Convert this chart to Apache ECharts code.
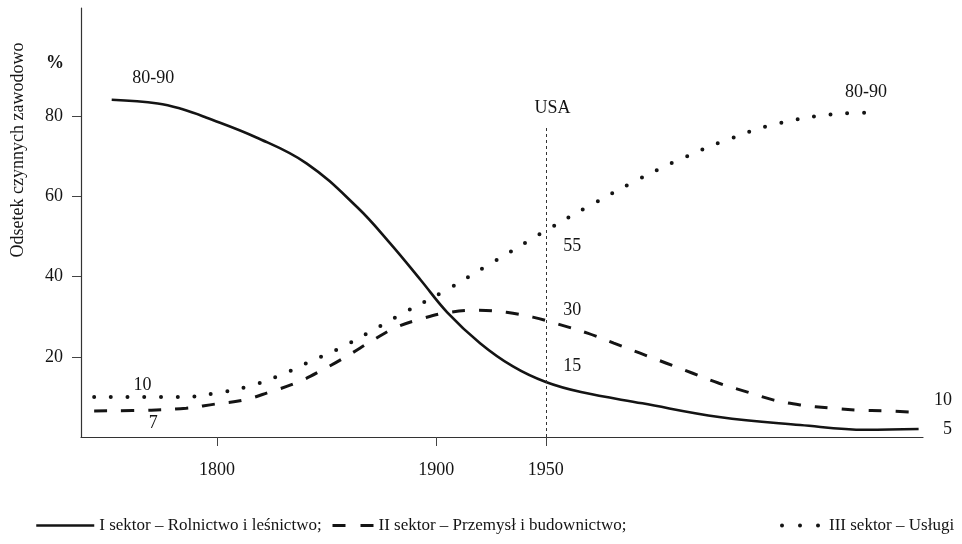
<!DOCTYPE html>
<html>
<head>
<meta charset="utf-8">
<script src="https://cdn.jsdelivr.net/npm/echarts@6/dist/echarts.min.js"></script>
<style>
  html, body { margin: 0; padding: 0; background: #fff; }
  #chart { width: 962px; height: 544px; }
</style>
</head>
<body>
<div id="chart"></div>
<script>
// Dane (rok, % czynnych zawodowo)
const sec1Name = 'I sektor – Rolnictwo i leśnictwo;';
const sec2Name = 'II sektor – Przemysł i budownictwo;';
const sec3Name = 'III sektor – Usługi';

const sec1Years = [1752, 1773, 1784, 1795, 1818, 1841, 1864, 1879, 1893, 1905, 1920, 1935, 1950, 1966, 1994, 2029, 2066, 2096, 2120];
const sec1Values = [84.1, 83.2, 81.8, 79.7, 74.7, 68.2, 57.3, 48.3, 39.1, 31.1, 23.4, 17.6, 13.7, 11.2, 8.4, 5.0, 3.0, 1.8, 2.0];

const sec2Years = [1744, 1770, 1786, 1799, 1812, 1824, 1837, 1848, 1860, 1871, 1882, 1894, 1906, 1919, 1932, 1944, 1956, 1969, 1981, 1993, 2005, 2017, 2029, 2042, 2054, 2066, 2080, 2092, 2105, 2117];
const sec2Values = [6.5, 6.7, 7.2, 8.2, 9.2, 11.2, 13.7, 16.7, 20.4, 24.1, 27.4, 29.6, 31.1, 31.6, 31.1, 29.9, 28.1, 25.9, 23.4, 20.9, 18.4, 15.9, 13.4, 11.2, 9.2, 8.0, 7.2, 6.7, 6.5, 6.2];

const sec3Years = [1744, 1785, 1800, 1815, 1830, 1844, 1857, 1871, 1885, 1905, 1925, 1951, 1971, 1992, 2013, 2034, 2056, 2086, 2102];
const sec3Values = [10.0, 10.0, 11.0, 12.7, 15.7, 19.2, 22.4, 26.6, 30.9, 36.8, 43.3, 51.8, 58.0, 64.2, 69.7, 74.4, 78.2, 80.7, 80.9];

const xTicks = [1800, 1900, 1950];
const yTicks = [20, 40, 60, 80];
const usaYear = 1950;
const usaTop = 77.2;

const font = 'Liberation Serif, Times New Roman, serif';
const ink = '#141414';
const fs = 18;

const chart = echarts.init(document.getElementById('chart'));

function pairs(xs, ys) {
    return xs.map((x, i) => [x, ys[i]]);
}

// Etykiety opisowe przy liniach
function note(coord, text, offset) {
    return {
        coord: coord,
        value: text,
        symbol: 'circle',
        symbolSize: 0,
        label: {
            show: true,
            position: 'inside',
            formatter: text,
            offset: offset || [0, 0],
            color: ink,
            fontFamily: font,
            fontSize: fs
        }
    };
}

function legend(name, left, width, lineStyle) {
    return {
        data: [name],
        left: left,
        top: 512,
        itemWidth: width,
        itemHeight: 14,
        itemGap: 0,
        selectedMode: false,
        itemStyle: { opacity: 0 },
        lineStyle: lineStyle,
        textStyle: { fontFamily: font, fontSize: 17, color: ink }
    };
}

const option = {
    animation: false,
    backgroundColor: '#fff',
    grid: { left: 81, right: 39, top: 8, bottom: 107 },
    legend: [
        legend(sec1Name, 30, 58, { type: 'solid', width: 2.5, color: ink }),
        legend(sec2Name, 326, 41, { type: [13, 15], width: 3, color: ink }),
        legend(sec3Name, 775, 42, { type: [0, 18], width: 4, cap: 'round', color: ink })
    ],
    graphic: [
        {
            type: 'text',
            x: 18, y: 150,
            rotation: Math.PI / 2,
            style: {
                text: 'Odsetek czynnych zawodowo',
                fill: ink,
                font: fs + 'px ' + font,
                align: 'center',
                verticalAlign: 'middle'
            }
        },
        {
            type: 'text',
            x: 55, y: 63,
            style: {
                text: '%',
                fill: ink,
                font: 'bold ' + fs + 'px ' + font,
                align: 'center',
                verticalAlign: 'middle'
            }
        }
    ],
    xAxis: {
        type: 'value',
        min: 1738,
        max: 2122,
        axisLine: { show: true, onZero: false, lineStyle: { color: '#333', width: 1.2 } },
        axisTick: { show: true, customValues: xTicks, length: 9, lineStyle: { color: '#444' } },
        axisLabel: {
            customValues: xTicks,
            margin: 24,
            color: ink,
            fontFamily: font,
            fontSize: fs,
            formatter: (v) => String(v)
        },
        splitLine: { show: false }
    },
    yAxis: {
        type: 'value',
        min: 0,
        max: 107,
        axisLine: { show: true, lineStyle: { color: '#333', width: 1.2 } },
        axisTick: { show: true, customValues: yTicks, length: 9, lineStyle: { color: '#444' } },
        axisLabel: { customValues: yTicks, margin: 18, color: ink, fontFamily: font, fontSize: fs },
        splitLine: { show: false }
    },
    series: [
        {
            name: sec1Name,
            type: 'line',
            smooth: 0.4,
            symbol: 'none',
            data: pairs(sec1Years, sec1Values),
            lineStyle: { color: ink, width: 2.6 },
            itemStyle: { color: ink },
            markLine: {
                silent: true,
                symbol: 'none',
                label: { show: false },
                lineStyle: { color: '#333', width: 1, type: [3, 3] },
                data: [[{ coord: [usaYear, 0] }, { coord: [usaYear, usaTop] }]]
            },
            markPoint: {
                silent: true,
                data: [
                    note([1771, 89.4], '80-90'),
                    note([1962, 17.7], '15'),
                    note([1953, 81.9], 'USA'),
                    note([2120, 2.0], '5', [29, 0])
                ]
            }
        },
        {
            name: sec2Name,
            type: 'line',
            smooth: 0.4,
            symbol: 'none',
            data: pairs(sec2Years, sec2Values),
            lineStyle: { color: ink, width: 3, type: [13, 14] },
            itemStyle: { color: ink },
            markPoint: {
                silent: true,
                data: [
                    note([1771, 3.5], '7'),
                    note([1962, 31.6], '30'),
                    note([2117, 6.2], '10', [31, -12])
                ]
            }
        },
        {
            name: sec3Name,
            type: 'line',
            smooth: 0.4,
            symbol: 'none',
            data: pairs(sec3Years, sec3Values),
            lineStyle: { color: ink, width: 4, type: [0, 16.7], cap: 'round' },
            itemStyle: { color: ink },
            markPoint: {
                silent: true,
                data: [
                    note([1766, 12.9], '10'),
                    note([1962, 47.5], '55'),
                    note([2096, 85.9], '80-90')
                ]
            }
        }
    ]
};

chart.setOption(option);
</script>
</body>
</html>
